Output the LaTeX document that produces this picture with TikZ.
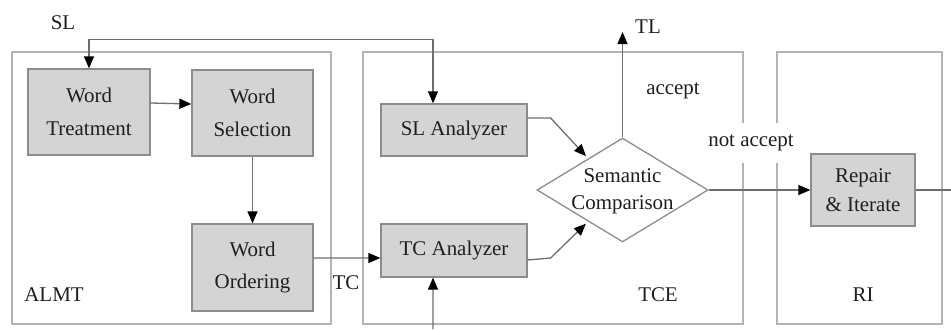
\documentclass[tikz,border=0pt]{standalone}
\usepackage{fontspec}
\setmainfont{Liberation Serif}
\usetikzlibrary{shapes.geometric,arrows.meta,calc}
\definecolor{boxfill}{HTML}{D4D4D4}
\definecolor{boxline}{HTML}{8C8C8C}
\definecolor{contline}{HTML}{B4B4B4}
\definecolor{linegray}{HTML}{6E6E6E}
\definecolor{txt}{HTML}{1E1E1E}
\begin{document}
\begin{tikzpicture}[x=1bp,y=-1bp,
  container/.style={draw=contline, line width=1.6bp, minimum width=#1, minimum height=272bp, inner sep=0pt},
  procbox/.style={draw=boxline, fill=boxfill, line width=1.3bp, inner sep=0pt, align=center, text=txt,
     font=\fontsize{21}{33}\selectfont},
  lbl/.style={text=txt, font=\fontsize{21}{25}\selectfont, inner sep=1bp},
  arr/.style={draw=linegray, line width=1.3bp, -{Triangle[black,length=12bp,width=10bp]}},
  plain/.style={draw=linegray, line width=1.3bp}]
\useasboundingbox (0,0) rectangle (951,329);
% containers
\node[container=319bp] (almt) at (171.5,188) {};
\node[container=380bp] (tce) at (553,188) {};
\node[container=165bp] (ri) at (859.5,188) {};
% container labels
\node[lbl] (lalmt) at (54,295) {ALMT};
\node[lbl] (ltce) at (658,295) {TCE};
\node[lbl] (lri) at (863,295) {RI};
% process boxes
\node[procbox, minimum width=122bp, minimum height=86bp] (wt) at (89,112) {Word\\Treatment};
\node[procbox, minimum width=121bp, minimum height=86bp] (ws) at (252.5,113) {Word\\Selection};
\node[procbox, minimum width=121bp, minimum height=87bp] (wo) at (252.5,267.5) {Word\\Ordering};
\node[procbox, minimum width=146bp, minimum height=52bp] (sla) at (454,130) {SL Analyzer};
\node[procbox, minimum width=146bp, minimum height=53bp] (tca) at (454,250.5) {TC Analyzer};
\node[procbox, minimum width=104bp, minimum height=72bp, font=\fontsize{21}{29}\selectfont] (rep) at (863,190) {Repair\\\&~Iterate};
% decision
\node[diamond, draw=boxline, fill=white, line width=1.3bp, minimum width=171bp, minimum height=104bp, inner sep=0pt] (sc) at (622.5,190) {};
\node[lbl, align=center, font=\fontsize{21}{27}\selectfont] (sctext) at (622.5,191) {Semantic\\Comparison};
% labels
\node[lbl] (lsl) at (63,23) {SL};
\node[lbl] (ltl) at (648,27) {TL};
\node[lbl] (lacc) at (673,91) {accept};
\node[lbl, fill=white, minimum height=40bp, inner sep=2bp] (lnacc) at (751,143) {not accept};
\node[lbl] (ltc) at (346,283) {TC};
% free ends
\coordinate (tlend) at (622.5,32);
\coordinate (tcin) at (433,329);
\coordinate (outend) at (951,190);
% connectors
\draw[arr, {Triangle[black,length=12bp,width=10bp]}-{Triangle[black,length=12bp,width=10bp]}]
  (wt.north) -- ++(0,-29) -| ([xshift=-21bp]sla.north);
\draw[arr] ([yshift=9bp]wt.east) -- ([yshift=9bp]ws.west);
\draw[arr] (ws.south) -- (wo.north);
\draw[arr] ([yshift=9.5bp]wo.east) -- ([yshift=-7.5bp]tca.west);
\draw[arr] (tcin) -- ([xshift=-21bp]tca.south);
\draw[arr, shorten >=3bp] ([yshift=12bp]sla.east) -- ++(23,0) -- ($(sc.west)!0.6!(sc.north)$);
\draw[arr, shorten >=3bp] ([yshift=-9.5bp]tca.east) -- ++(23,-2) -- ($(sc.west)!0.6!(sc.south)$);
\draw[arr] (sc.north) -- (tlend);
\draw[arr] (sc.east) -- (rep.west);
\draw[plain] (rep.east) -- (outend);
\end{tikzpicture}
\end{document}
